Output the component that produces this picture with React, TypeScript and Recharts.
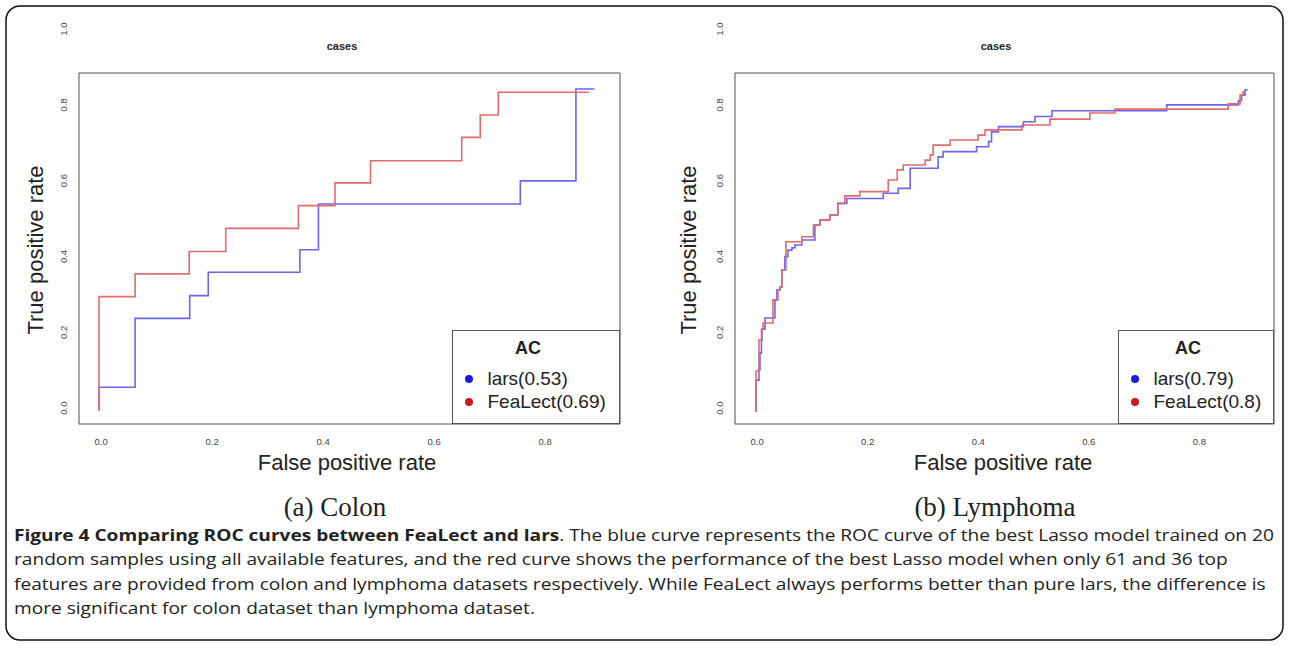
import { useLayoutEffect, useRef, useState } from 'react';
import {
  CartesianGrid,
  Legend,
  Line,
  LineChart,
  ReferenceArea,
  XAxis,
  YAxis,
} from 'recharts';

// Colon ROC curves (step points: x = false positive rate, y = true positive rate)
const colonLarsFpr = [0, 0, 0.072, 0.181, 0.218, 0.401, 0.438, 0.841, 0.952, 0.989];
const colonLarsTpr = [0, 0.073, 0.285, 0.355, 0.427, 0.496, 0.637, 0.708, 0.991, 0.991];
const colonFeaLectFpr = [0, 0, 0.072, 0.18, 0.253, 0.398, 0.471, 0.542, 0.724, 0.761, 0.797, 0.978];
const colonFeaLectTpr = [0, 0.352, 0.422, 0.491, 0.562, 0.632, 0.702, 0.77, 0.842, 0.911, 0.981, 0.981];

// Lymphoma ROC curves
const lymphLarsFpr = [
  0, 0.002, 0.008, 0.01, 0.013, 0.014, 0.02, 0.04, 0.044, 0.05, 0.054, 0.06, 0.066,
  0.074, 0.08, 0.094, 0.12, 0.13, 0.15, 0.166, 0.184, 0.257, 0.287, 0.311, 0.367,
  0.377, 0.444, 0.468, 0.474, 0.488, 0.538, 0.561, 0.595, 0.825, 0.969, 0.975, 0.982, 0.987,
];
const lymphLarsTpr = [
  0, 0.095, 0.126, 0.178, 0.218, 0.252, 0.286, 0.342, 0.372, 0.382, 0.434, 0.475, 0.495,
  0.502, 0.511, 0.526, 0.572, 0.588, 0.603, 0.639, 0.654, 0.67, 0.685, 0.747, 0.782,
  0.798, 0.813, 0.829, 0.859, 0.875, 0.89, 0.906, 0.924, 0.942, 0.955, 0.972, 0.988, 0.988,
];
const lymphFeaLectFpr = [
  0, 0.002, 0.008, 0.013, 0.016, 0.036, 0.046, 0.05, 0.054, 0.062, 0.094, 0.117, 0.13,
  0.15, 0.166, 0.18, 0.21, 0.267, 0.285, 0.297, 0.341, 0.351, 0.357, 0.391, 0.447,
  0.461, 0.535, 0.591, 0.671, 0.721, 0.948, 0.972, 0.978, 0.98,
];
const lymphFeaLectTpr = [
  0, 0.123, 0.218, 0.252, 0.271, 0.342, 0.372, 0.382, 0.434, 0.521, 0.536, 0.572, 0.588,
  0.603, 0.639, 0.662, 0.675, 0.711, 0.742, 0.757, 0.772, 0.788, 0.818, 0.834, 0.849,
  0.865, 0.88, 0.898, 0.917, 0.929, 0.945, 0.972, 0.982, 0.982,
];

const colonLabels = ['lars(0.53)', 'FeaLect(0.69)'];
const lymphLabels = ['lars(0.79)', 'FeaLect(0.8)'];

const gridTicks = [0, 0.2, 0.4, 0.6, 0.8, 1.0];
const xLabelTicks = [0, 0.2, 0.4, 0.6, 0.8];
const yLabelTicks = [0, 0.2, 0.4, 0.6, 0.8, 1.0];

const captionBold = 'Figure 4 Comparing ROC curves between FeaLect and lars';
const captionLines = [
  '. The blue curve represents the ROC curve of the best Lasso model trained on 20',
  'random samples using all available features, and the red curve shows the performance of the best Lasso model when only 61 and 36 top',
  'features are provided from colon and lymphoma datasets respectively. While FeaLect always performs better than pure lars, the difference is',
  'more significant for colon dataset than lymphoma dataset.',
];

const LARS_LINE = '#6d64f0';
const FEA_LINE = '#e36b6b';
const dotColors = ['#1a1aee', '#cc1b1b'];
const AXIS_FONT = "'Liberation Sans', Arial, sans-serif";

const toPoints = (xs: number[], ys: number[]) => xs.map((x, i) => ({ x, y: ys[i] }));

function RotatedTick(props: any) {
  const { x, y, payload } = props;
  return (
    <text
      x={x}
      y={y}
      transform={`rotate(-90 ${x} ${y})`}
      textAnchor="middle"
      fontSize={9.5}
      fill="#444"
      fontFamily={AXIS_FONT}
    >
      {Number(payload.value).toFixed(1)}
    </text>
  );
}

function makeLegend(labels: string[]) {
  return function LegendBox(props: any) {
    const payload = props.payload || [];
    return (
      <div
        style={{
          width: '100%',
          height: '100%',
          border: '1px solid #555',
          boxSizing: 'border-box',
          fontFamily: AXIS_FONT,
          color: '#222',
        }}
      >
        <div style={{ fontWeight: 'bold', fontSize: 18, textAlign: 'center', paddingRight: 16, marginTop: 6, lineHeight: '22px' }}>
          AC
        </div>
        <div style={{ marginTop: 8 }}>
          {payload.map((p: any) => (
            <div key={p.value} style={{ display: 'flex', alignItems: 'center', height: 23, fontSize: 19 }}>
              <span
                style={{
                  display: 'inline-block',
                  marginLeft: 12,
                  width: 8,
                  height: 8,
                  borderRadius: '50%',
                  background: dotColors[labels.indexOf(p.value)],
                }}
              />
              <span style={{ marginLeft: 14.5 }}>{p.value}</span>
            </div>
          ))}
        </div>
      </div>
    );
  };
}

type PanelProps = {
  left: number;
  width: number;
  marginLeft: number;
  marginRight: number;
  legendLeft: number;
  legendWidth: number;
  lars: { x: number; y: number }[];
  fealect: { x: number; y: number }[];
  labels: string[];
};

function RocPanel({ left, width, marginLeft, marginRight, legendLeft, legendWidth, lars, fealect, labels }: PanelProps) {
  const LegendBox = makeLegend(labels);
  return (
    <div style={{ position: 'absolute', left, top: 0 }}>
      <LineChart width={width} height={480} margin={{ top: 73, right: marginRight, bottom: 24, left: marginLeft }}>
        <XAxis
          xAxisId="v"
          type="number"
          dataKey="x"
          domain={[-0.04, 1.04]}
          allowDataOverflow
          ticks={gridTicks}
          interval={0}
          tick={false}
          tickSize={7}
          height={7}
          axisLine={false}
          tickLine={{ stroke: '#555' }}
        />
        <XAxis
          xAxisId="lab"
          type="number"
          dataKey="x"
          domain={[-0.04, 0.935]}
          allowDataOverflow
          ticks={xLabelTicks}
          interval={0}
          height={25}
          axisLine={false}
          tickLine={false}
          tickSize={0}
          tickMargin={14}
          tick={{ fontSize: 9.5, fill: '#444', fontFamily: AXIS_FONT }}
          tickFormatter={(v: number) => v.toFixed(1)}
        />
        <YAxis
          yAxisId="v"
          type="number"
          dataKey="y"
          domain={[-0.04, 1.04]}
          allowDataOverflow
          ticks={gridTicks}
          interval={0}
          tick={false}
          tickSize={7}
          width={7}
          axisLine={false}
          tickLine={{ stroke: '#555' }}
        />
        <YAxis
          yAxisId="lab"
          type="number"
          domain={[-0.042, 0.884]}
          allowDataOverflow
          ticks={yLabelTicks}
          interval={0}
          width={30}
          axisLine={false}
          tickLine={false}
          tickSize={0}
          tickMargin={12}
          tick={<RotatedTick />}
        />
        <CartesianGrid xAxisId="v" yAxisId="v" stroke="#d2d2d2" strokeDasharray="1 3" />
        <ReferenceArea
          xAxisId="v"
          yAxisId="v"
          x1={-0.04}
          x2={1.04}
          y1={-0.04}
          y2={1.04}
          fill="none"
          fillOpacity={0}
          stroke="#555"
          strokeWidth={1}
        />
        <Line
          xAxisId="v"
          yAxisId="v"
          data={lars}
          dataKey="y"
          name={labels[0]}
          type="stepAfter"
          stroke={LARS_LINE}
          strokeWidth={1.6}
          dot={false}
          isAnimationActive={false}
        />
        <Line
          xAxisId="v"
          yAxisId="v"
          data={fealect}
          dataKey="y"
          name={labels[1]}
          type="stepAfter"
          stroke={FEA_LINE}
          strokeWidth={1.6}
          dot={false}
          isAnimationActive={false}
        />
        <Legend
          layout="vertical"
          align="center"
          verticalAlign="middle"
          itemSorter={(item: any) => labels.indexOf(item.value)}
          content={<LegendBox />}
          wrapperStyle={{ left: legendLeft, top: 330, width: legendWidth, height: 94 }}
        />
      </LineChart>
    </div>
  );
}

function Caption() {
  const ref = useRef<SVGTextElement>(null);
  const [sx, setSx] = useState(1);
  useLayoutEffect(() => {
    if (ref.current) {
      const w = ref.current.getComputedTextLength();
      if (w > 0) setSx(1261 / w);
    }
  }, []);
  return (
    <g transform={`translate(14 0) scale(${sx} 1)`} fontFamily="'Open Sans', sans-serif" fontSize={16} fill="#222">
      <text ref={ref} x={0} y={541}>
        <tspan fontWeight="bold">{captionBold}</tspan>
        {captionLines[0]}
      </text>
      <text x={0} y={565.5}>{captionLines[1]}</text>
      <text x={0} y={590}>{captionLines[2]}</text>
      <text x={0} y={614.5}>{captionLines[3]}</text>
    </g>
  );
}

export default function App() {
  return (
    <div style={{ position: 'absolute', left: 0, top: 0, width: 1289, height: 647, background: '#fff' }}>
      <RocPanel
        left={0}
        width={640}
        marginLeft={42}
        marginRight={20}
        legendLeft={452}
        legendWidth={168}
        lars={toPoints(colonLarsFpr, colonLarsTpr)}
        fealect={toPoints(colonFeaLectFpr, colonFeaLectTpr)}
        labels={colonLabels}
      />
      <RocPanel
        left={640}
        width={649}
        marginLeft={58}
        marginRight={15}
        legendLeft={478}
        legendWidth={156}
        lars={toPoints(lymphLarsFpr, lymphLarsTpr)}
        fealect={toPoints(lymphFeaLectFpr, lymphFeaLectTpr)}
        labels={lymphLabels}
      />
      <svg width={1289} height={647} style={{ position: 'absolute', left: 0, top: 0, pointerEvents: 'none' }}>
        <rect x={6} y={6} width={1277} height={634} rx={14} fill="none" stroke="#111" strokeWidth={1.5} />
        <g fontFamily={AXIS_FONT} fill="#222">
          <text x={342} y={50} textAnchor="middle" fontSize={11} fontWeight="bold">cases</text>
          <text x={996} y={50} textAnchor="middle" fontSize={11} fontWeight="bold">cases</text>
          <text x={347} y={470} textAnchor="middle" fontSize={22}>False positive rate</text>
          <text x={1003} y={470} textAnchor="middle" fontSize={22}>False positive rate</text>
          <text x={43} y={250} transform="rotate(-90 43 250)" textAnchor="middle" fontSize={22}>True positive rate</text>
          <text x={696} y={250} transform="rotate(-90 696 250)" textAnchor="middle" fontSize={22}>True positive rate</text>
        </g>
        <g fontFamily="'Liberation Serif', 'Times New Roman', serif" fill="#222" fontSize={27}>
          <text x={335} y={516} textAnchor="middle">(a) Colon</text>
          <text x={995} y={516} textAnchor="middle">(b) Lymphoma</text>
        </g>
        <Caption />
      </svg>
    </div>
  );
}
